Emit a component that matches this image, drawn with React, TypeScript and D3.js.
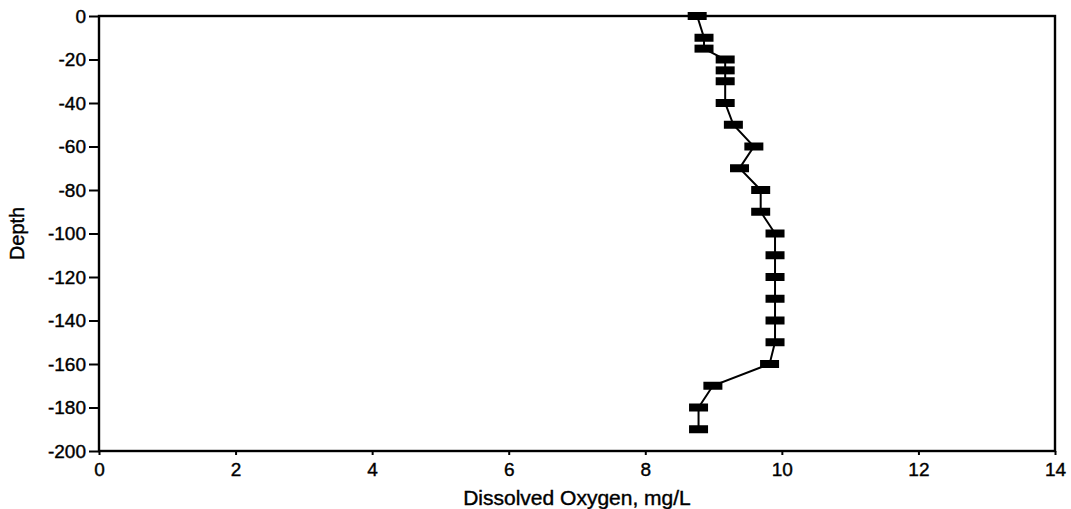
import React, { useEffect, useRef } from "react";
import * as d3 from "d3";

const depths = [0, -10, -15, -20, -25, -30, -40, -50, -60, -70, -80, -90, -100, -110, -120, -130, -140, -150, -160, -170, -180, -190];
const oxygen = [8.76, 8.86, 8.86, 9.17, 9.17, 9.17, 9.17, 9.29, 9.59, 9.38, 9.69, 9.69, 9.9, 9.9, 9.9, 9.9, 9.9, 9.9, 9.82, 8.99, 8.78, 8.78];
const xTicks = [0, 2, 4, 6, 8, 10, 12, 14];
const yTicks = [0, -20, -40, -60, -80, -100, -120, -140, -160, -180, -200];

const W = 1071;
const H = 509;
const M = { left: 99, right: 1055, top: 16, bottom: 451 };
const FONT = "'Liberation Sans', Arial, Helvetica, sans-serif";

export default function App() {
  const ref = useRef<SVGSVGElement>(null);
  useEffect(() => {
    const svg = d3.select(ref.current);
    svg.selectAll("*").remove();
    const x = d3.scaleLinear().domain([0, 14]).range([M.left, M.right]);
    const y = d3.scaleLinear().domain([0, -200]).range([M.top, M.bottom]);
    const fmt = (v: d3.NumberValue) => String(v);

    const gx = svg.append("g").attr("transform", `translate(0,${M.bottom})`)
      .call(d3.axisBottom(x).tickValues(xTicks).tickSize(4).tickPadding(8).tickFormat(fmt));
    const gy = svg.append("g").attr("transform", `translate(${M.left},0)`)
      .call(d3.axisLeft(y).tickValues(yTicks).tickSize(10).tickPadding(3).tickFormat(fmt));
    [gx, gy].forEach((g) => {
      g.select(".domain").remove();
      g.selectAll("line").attr("stroke", "#000").attr("stroke-width", 2);
      g.selectAll("text").attr("fill", "#000").attr("stroke", "#000").attr("stroke-width", 0.4)
        .style("font-family", FONT).style("font-size", "19px");
    });

    svg.append("rect")
      .attr("x", M.left).attr("y", M.top)
      .attr("width", M.right - M.left).attr("height", M.bottom - M.top)
      .attr("fill", "none").attr("stroke", "#000").attr("stroke-width", 2.4);

    const data = depths.map((d, i) => ({ d, v: oxygen[i] }));
    const line = d3.line<{ d: number; v: number }>().x((p) => x(p.v)).y((p) => y(p.d));
    svg.append("path").datum(data).attr("d", line).attr("fill", "none").attr("stroke", "#000").attr("stroke-width", 2);

    svg.append("g").selectAll("rect").data(data).join("rect")
      .attr("x", (p) => x(p.v) - 9.5).attr("y", (p) => y(p.d) - 4)
      .attr("width", 19).attr("height", 8).attr("fill", "#000");

    svg.append("text").attr("x", (M.left + M.right) / 2).attr("y", 505)
      .attr("text-anchor", "middle").attr("stroke", "#000").attr("stroke-width", 0.4)
      .style("font-family", FONT).style("font-size", "21px")
      .text("Dissolved Oxygen, mg/L");
    svg.append("text").attr("transform", `translate(24,${(M.top + M.bottom) / 2}) rotate(-90)`)
      .attr("text-anchor", "middle").attr("stroke", "#000").attr("stroke-width", 0.4)
      .style("font-family", FONT).style("font-size", "20px")
      .text("Depth");
  }, []);
  return (
    <div style={{ position: "fixed", left: 0, top: 0, background: "#fff" }}>
      <svg ref={ref} width={W} height={H} style={{ display: "block" }} />
    </div>
  );
}
